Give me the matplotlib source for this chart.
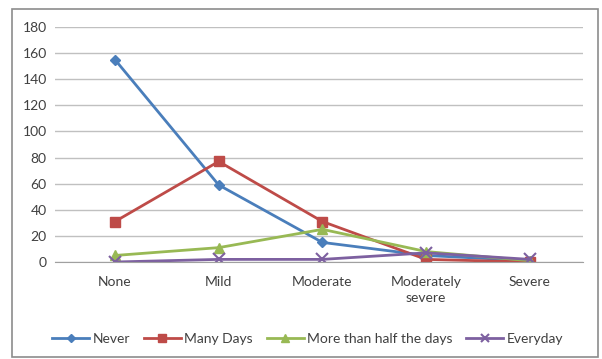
import matplotlib
matplotlib.use("Agg")
import matplotlib.pyplot as plt
from matplotlib.patches import Rectangle

plt.rcParams['font.family'] = ['Lato', 'DejaVu Sans']

categories = ['None', 'Mild', 'Moderate', 'Moderately\nsevere', 'Severe']
never = [155, 59, 15, 5, 1]
many_days = [31, 77, 31, 2, 0]
more_than_half = [5, 11, 25, 8, 1]
everyday = [0, 2, 2, 7, 2]

fig = plt.figure(figsize=(6.02, 3.59), dpi=100)
ax = fig.add_axes([0.0914, 0.2702, 0.8766, 0.6546])

# outer chart border
fig.patches.append(Rectangle((12 / 602, 2 / 359), 586 / 602, 348 / 359,
                             transform=fig.transFigure, fill=False,
                             edgecolor='#8c8c8c', lw=1.2))

x = range(len(categories))
ax.plot(x, never, color='#4A7EBB', marker='D', ms=5.5, lw=2, label='Never')
ax.plot(x, many_days, color='#BE4B48', marker='s', ms=7.5, lw=2, label='Many Days')
ax.plot(x, more_than_half, color='#98B954', marker='^', ms=7.5, lw=2,
        label='More than half the days')
ax.plot(x, everyday, color='#7D60A0', marker='x', ms=8, mew=1.5, lw=2,
        label='Everyday')

ax.set_xlim(-0.578, 4.51)
ax.set_ylim(0, 180)
ax.set_yticks(range(0, 181, 20))
ax.set_xticks(list(x))
ax.set_xticklabels(categories, linespacing=1.45)
ax.grid(axis='y', color='#c0c0c0', lw=1)
ax.set_axisbelow(True)
for s in ['top', 'right', 'left']:
    ax.spines[s].set_visible(False)
ax.spines['bottom'].set_color('#a0a0a0')
ax.tick_params(axis='both', length=0, labelsize=10, colors='#404040', pad=6)
ax.tick_params(axis='x', pad=10)

leg = ax.legend(loc='center', bbox_to_anchor=(0.479, -0.327), ncol=4,
                frameon=False, fontsize=10, handlelength=2.65,
                handletextpad=0.25, columnspacing=1.0, labelcolor='#404040',
                markerscale=0.75)

fig.savefig('out.png', dpi=100)
